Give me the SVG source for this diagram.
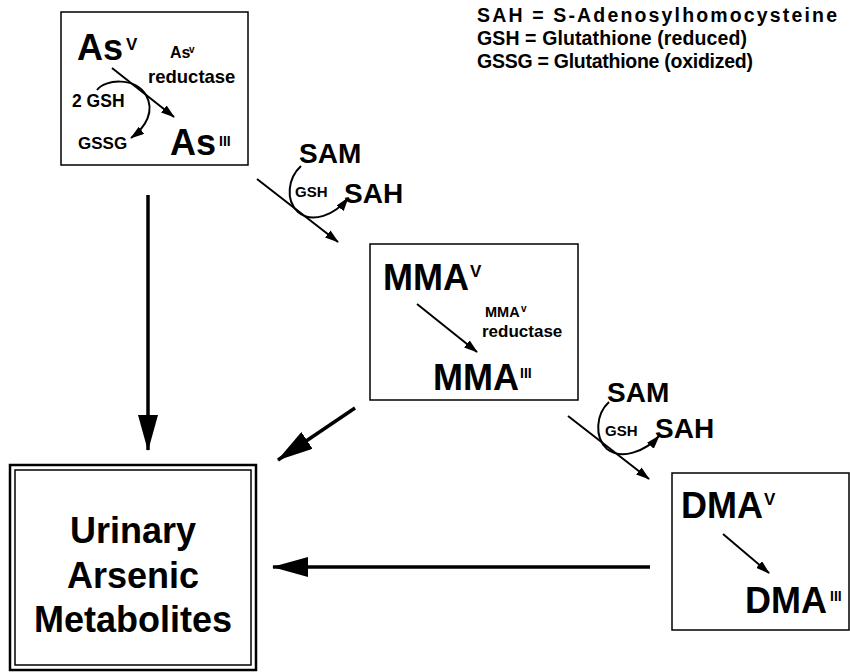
<svg xmlns="http://www.w3.org/2000/svg" width="850" height="672" viewBox="0 0 850 672">
<style>
text{font-family:"Liberation Sans",Arial,Helvetica,sans-serif;font-weight:bold;fill:#000}
.big{font-size:36px}
.mid{font-size:28px}
.sup{font-size:17px}
.supiii{font-size:14px}
.lbl{font-size:17px}
.sm{font-size:15px}
.leg{font-size:19.5px}
.box{fill:#fff;stroke:#000;stroke-width:1.5}
.thick{fill:none;stroke:#000;stroke-width:3.5}
.thin{fill:none;stroke:#000;stroke-width:2}
</style>
<defs>
<marker id="bigHead" markerUnits="userSpaceOnUse" viewBox="0 0 36 20" refX="35" refY="10" markerWidth="36" markerHeight="20" orient="auto">
<path d="M0,0 L36,10 L0,20 z" fill="#000"/>
</marker>
<marker id="smHead" markerUnits="userSpaceOnUse" viewBox="0 0 14 9" refX="13" refY="4.5" markerWidth="14" markerHeight="9" orient="auto">
<path d="M0,0 L14,4.5 L0,9 z" fill="#000"/>
</marker>
</defs>

<g id="legend">
<text class="leg" x="477" y="22" textLength="360" lengthAdjust="spacing">SAH = S-Adenosylhomocysteine</text>
<text class="leg" x="477" y="45" textLength="270" lengthAdjust="spacing">GSH = Glutathione (reduced)</text>
<text class="leg" x="477" y="68" textLength="276" lengthAdjust="spacing">GSSG = Glutathione (oxidized)</text>
</g>

<g id="node-as">
<rect class="box" x="61" y="12" width="187" height="153"/>
<text class="big" x="77" y="60" font-size="37">As</text>
<text class="sup" x="126" y="50">V</text>
<text x="170" y="58" font-size="16">As</text>
<text x="189" y="53" font-size="10">v</text>
<text x="148" y="83" font-size="18.5">reductase</text>
<text x="72" y="107" font-size="17.5">2 GSH</text>
<text x="78" y="149" font-size="17">GSSG</text>
<text class="big" x="170" y="155" font-size="37">As</text>
<text class="supiii" x="219" y="146">III</text>
<line class="thin" x1="112" y1="68" x2="174" y2="117" marker-end="url(#smHead)"/>
<path class="thin" d="M97,90 C105,79 135,77 146,95 C155,111 146,127 131,138" marker-end="url(#smHead)"/>
</g>

<g id="node-mma">
<rect class="box" x="370" y="244" width="208" height="156"/>
<text class="big" x="383" y="290">MMA</text>
<text class="sup" x="470" y="277">V</text>
<text x="485" y="317" font-size="14.5">MMA</text>
<text x="521" y="312" font-size="10">v</text>
<text class="lbl" x="482" y="337">reductase</text>
<text class="big" x="433" y="390">MMA</text>
<text class="supiii" x="520" y="378">III</text>
<line class="thin" x1="417" y1="304" x2="477" y2="352" marker-end="url(#smHead)"/>
</g>

<g id="node-dma">
<rect class="box" x="672" y="473" width="177" height="157"/>
<text class="big" x="681" y="518">DMA</text>
<text class="sup" x="764" y="505">V</text>
<text class="big" x="745" y="613">DMA</text>
<text class="supiii" x="830" y="601">III</text>
<line class="thin" x1="723" y1="534" x2="769" y2="573" marker-end="url(#smHead)"/>
</g>

<g id="node-urinary">
<rect x="10" y="465" width="246" height="205" fill="#fff" stroke="#000" stroke-width="2.5"/>
<rect x="15" y="470" width="236" height="195" fill="none" stroke="#000" stroke-width="1.5"/>
<text class="big" x="133" y="543" text-anchor="middle">Urinary</text>
<text class="big" x="133" y="588" text-anchor="middle">Arsenic</text>
<text class="big" x="133" y="632" text-anchor="middle">Metabolites</text>
</g>

<g id="methylation-1">
<text class="mid" x="299" y="163">SAM</text>
<text class="sm" x="295" y="197">GSH</text>
<text class="mid" x="344" y="203">SAH</text>
</g>

<g id="methylation-2">
<text class="mid" x="607" y="402">SAM</text>
<text class="sm" x="605" y="436">GSH</text>
<text class="mid" x="655" y="438">SAH</text>
</g>

<g id="connectors">
<line class="thick" x1="148" y1="195" x2="148" y2="450" marker-end="url(#bigHead)"/>
<line class="thick" x1="355" y1="408" x2="278" y2="460" marker-end="url(#bigHead)"/>
<line class="thick" x1="650" y1="567" x2="273" y2="567" marker-end="url(#bigHead)"/>
<line class="thin" x1="257" y1="179" x2="338" y2="242" marker-end="url(#smHead)"/>
<path class="thin" d="M301,166 C288,178 285,200 298,212 C312,224 335,215 348,198" marker-end="url(#smHead)"/>
<line class="thin" x1="568" y1="416" x2="649" y2="479" marker-end="url(#smHead)"/>
<path class="thin" d="M609,402 C596,414 594,437 607,449 C621,460 645,452 659,436" marker-end="url(#smHead)"/>
</g>
</svg>
